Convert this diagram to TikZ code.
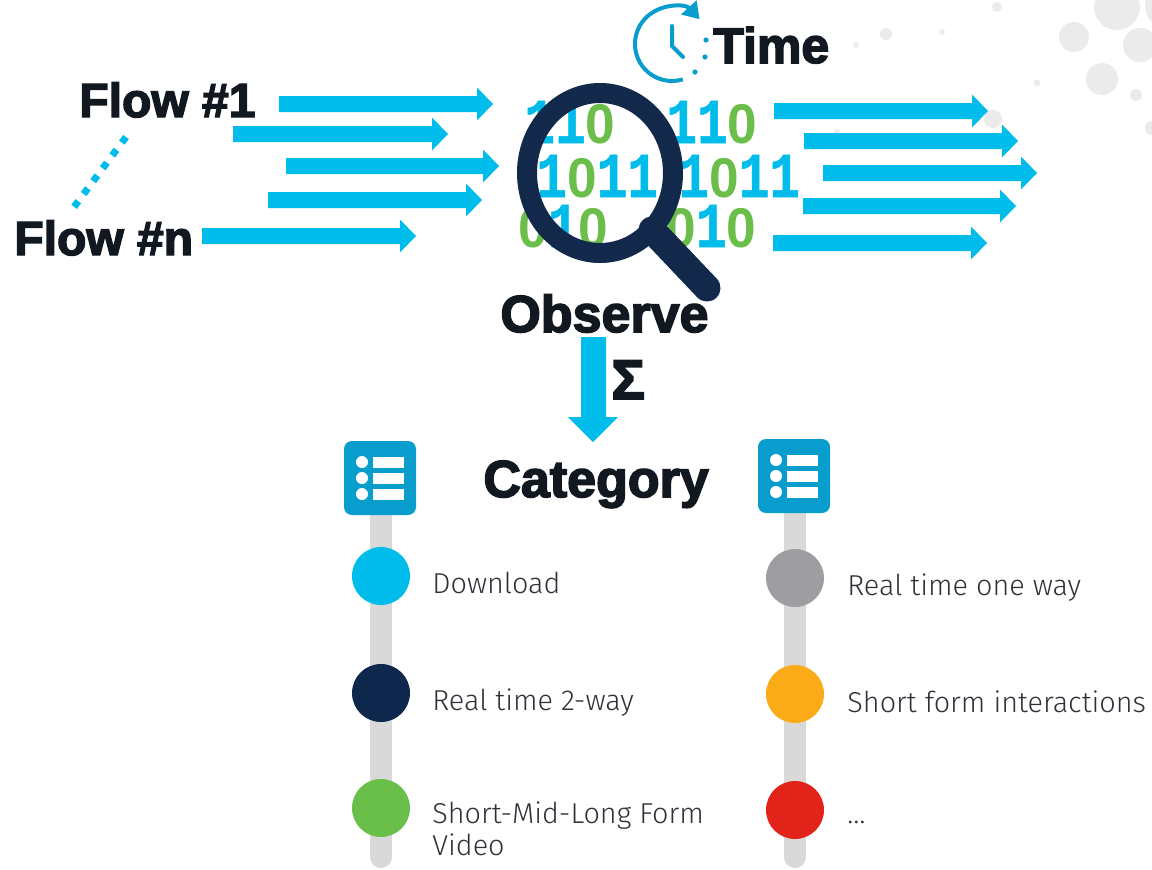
\documentclass[tikz,border=0pt]{standalone}
\usepackage{fontspec}
\setmainfont{Fira Sans Light}
\newfontfamily\heavyfont{Liberation Sans Bold}[FakeBold=3]
\newfontfamily\bitfont{Liberation Mono Bold}[FakeStretch=0.8,FakeBold=0.8]
\newfontfamily\zerofont{Liberation Sans Bold}[FakeStretch=0.95]
\usetikzlibrary{arrows.meta}
\definecolor{flowblue}{RGB}{0,188,235}
\definecolor{bitgreen}{RGB}{108,190,74}
\definecolor{lensnavy}{RGB}{19,41,75}
\definecolor{inkblack}{RGB}{17,24,32}
\definecolor{itemgray}{RGB}{45,50,56}
\definecolor{iconblue}{RGB}{8,157,204}
\definecolor{bargray}{RGB}{217,217,217}
\definecolor{haze}{RGB}{235,235,235}
\definecolor{catnavy}{RGB}{13,39,77}
\definecolor{catgreen}{RGB}{106,191,75}
\definecolor{catgray}{RGB}{158,158,162}
\definecolor{catorange}{RGB}{251,171,24}
\definecolor{catred}{RGB}{226,35,26}
\newcommand{\bitone}{\textcolor{flowblue}{1}}
\newcommand{\bitzero}{{\zerofont\fontsize{28}{32}\selectfont\textcolor{bitgreen}{0}}}
\begin{document}
\begin{tikzpicture}[x=0.5pt,y=-0.5pt]
	\tikzset{heavy/.style={font=\heavyfont\fontsize{24}{28}\selectfont,text=inkblack,inner sep=0pt,anchor=base west},
	         item/.style={font=\fontsize{14.4}{18}\selectfont,text=itemgray,inner sep=0pt,anchor=base west},
	         bits/.style={font=\bitfont\fontsize{32}{36}\selectfont,inner sep=0pt,text height=20pt,text depth=0pt,anchor=base west},
	         blob/.style={circle,inner sep=0pt,minimum size=29pt},
	         bar/.style={bargray,line width=11pt,line cap=round},
	         listicon/.pic={
	           \fill[iconblue,rounded corners=4pt] (-36,-37) rectangle (36,37);
	           \foreach \dy in {-16,0,16} {
	             \fill[white] (-18,\dy) circle[radius=6];
	             \fill[white] (-7,\dy-5.5) rectangle (24,\dy+5.5);
	           }}}
	\useasboundingbox (0,0) rectangle (1152,869);
	\foreach \x/\y/\r in {997/7/5, 1117/7/23, 1170/5/25, 1074/37/15, 1140/45/17, 1102/79/16,
	                      1037/83/3.5, 1136/95/6, 993/119/9, 1152/128/7,
	                      886/34/6, 856/45/3, 942/32/3, 837/132/3}
	  \fill[haze] (\x,\y) circle[radius=\r];
	\coordinate (clock) at (672,44);
	\coordinate (hand) at (672,46);
	\draw[iconblue,line width=2pt,{Triangle[length=8pt,width=10pt]}-] (clock) ++(-42:37) arc[start angle=-42,end angle=-287,radius=37];
	\draw[iconblue,line width=2pt,line cap=round,line join=round] (672,26) -- (hand) -- (683,57);
	\fill[iconblue] (706,40) circle[radius=2.6];
	\fill[iconblue] (705,57) circle[radius=2.6];
	\fill[iconblue] (695,72) circle[radius=2.6];
	\node[heavy,font=\heavyfont\fontsize{25}{28}\selectfont] (time) at (713,63) {Time};
	\node[heavy] (flow1) at (79,117) {Flow \#1};
	\node[heavy] (flown) at (14,255) {Flow \#n};
	\coordinate (dtop) at (126,137);
	\coordinate (dbot) at (74,207);
	\draw[flowblue,line width=3.5pt,dash pattern=on 3.5pt off 4.5pt] (dtop) -- (dbot);
	\foreach \xs/\xe/\y in {279/493/104, 233/448/134, 286/499/166, 268/482/200, 202/416/236,
	                        774/988/111, 804/1018/141, 823/1037/173, 803/1016/206, 773/987/243}
	  \fill[flowblue] (\xs,\y-8) -- (\xe-16,\y-8) -- (\xe-16,\y-16.5) -- (\xe,\y)
	                  -- (\xe-16,\y+16.5) -- (\xe-16,\y+8) -- (\xs,\y+8) -- cycle;
	\node[bits] (row1a) at (524,143) {\bitone\bitone\bitzero};
	\node[bits] (row1b) at (666,143) {\bitone\bitone\bitzero};
	\node[bits] (row2a) at (536,197) {\bitone\bitzero\bitone\bitone};
	\node[bits] (row2b) at (678,197) {\bitone\bitzero\bitone\bitone};
	\node[bits] (row3a) at (518,247) {\bitzero\bitone\bitzero};
	\node[bits] (row3b) at (666,247) {\bitzero\bitone\bitzero};
	\coordinate (lens) at (600,173);
	\coordinate (grip) at (652,230);
	\coordinate (gripend) at (707,288);
	\draw[lensnavy,line width=10pt] (lens) ellipse[x radius=73,y radius=80];
	\draw[lensnavy,line width=13.5pt,line cap=round] (grip) -- (gripend);
	\node[heavy,font=\heavyfont\fontsize{26}{30}\selectfont] (observe) at (500,332) {Observe};
	\fill[flowblue] (581,337) -- (606,337) -- (606,417) -- (618,417) -- (593,442) -- (568,417) -- (581,417) -- cycle;
	\node[heavy,font=\heavyfont\fontsize{28}{32}\selectfont] (sum) at (611,399) {Σ};
	\node[heavy,font=\heavyfont\fontsize{26}{30}\selectfont] (category) at (483,497) {Category};
	\draw[bar] (381,510) -- (381,857);
	\draw[bar] (795,510) -- (795,857);
	\pic (listA) at (380,478) {listicon};
	\pic (listB) at (794,476) {listicon};
	\node[blob,fill=flowblue] (c1) at (381,576) {};
	\node[blob,fill=catnavy] (c2) at (381,693) {};
	\node[blob,fill=catgreen] (c3) at (381,808) {};
	\node[blob,fill=catgray] (c4) at (795,578) {};
	\node[blob,fill=catorange] (c5) at (795,694) {};
	\node[blob,fill=catred] (c6) at (795,810) {};
	\node[item] (t1) at (432,593) {Download};
	\node[item] (t2) at (432,710) {Real time 2-way};
	\node[item] (t3) at (432,823) {Short-Mid-Long Form};
	\node[item] (t3b) at (432,855) {Video};
	\node[item] (t4) at (847,595) {Real time one way};
	\node[item] (t5) at (847,712) {Short form interactions};
	\node[item] (t6) at (847,823) {…};
\end{tikzpicture}
\end{document}
